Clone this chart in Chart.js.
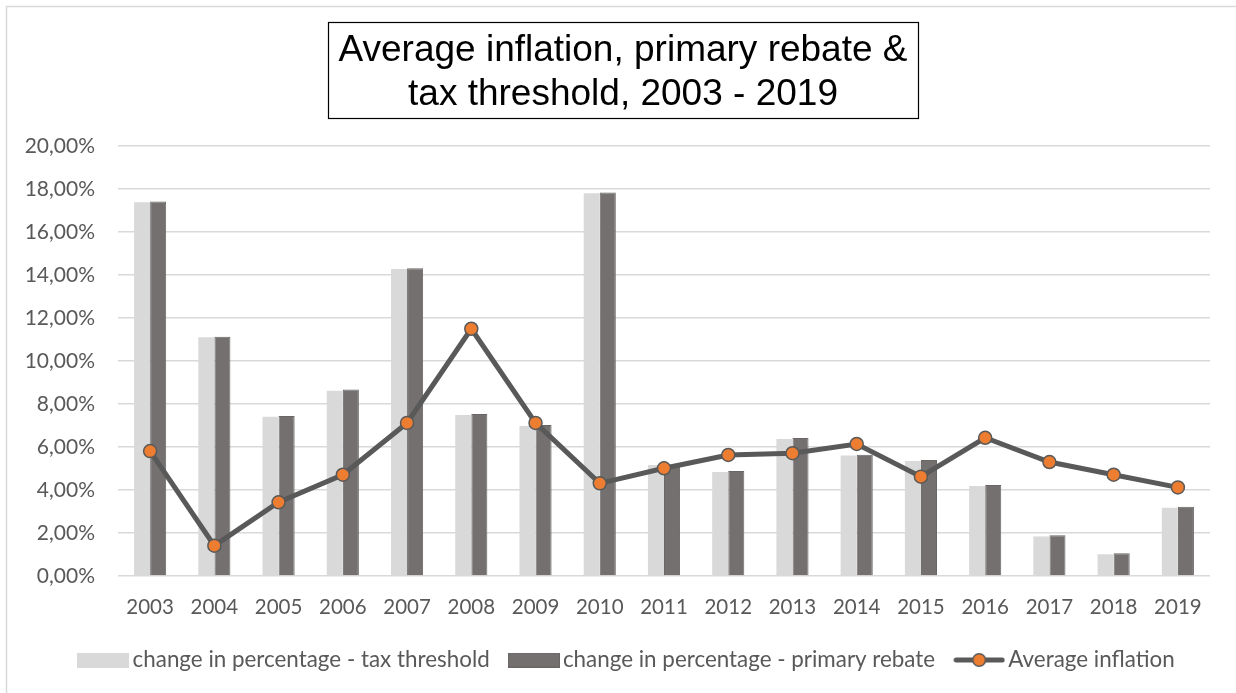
<!DOCTYPE html>
<html>
<head>
<meta charset="utf-8">
<script src="https://cdn.jsdelivr.net/npm/chart.js@4.4.1/dist/chart.umd.min.js"></script>
<style>
  html, body { margin: 0; padding: 0; background: #ffffff; }
  #wrap { position: relative; width: 1236px; height: 693px; overflow: hidden; }
  canvas { display: block; }
</style>
</head>
<body>
<div id="wrap"><canvas id="chart" width="1236" height="693"></canvas></div>
<script>
// Years on the category axis
const years = ['2003', '2004', '2005', '2006', '2007', '2008', '2009', '2010', '2011',
               '2012', '2013', '2014', '2015', '2016', '2017', '2018', '2019'];

// Year-on-year change of the tax threshold (%)
const taxThreshold = [17.38, 11.10, 7.41, 8.62, 14.28, 7.49, 6.98, 17.80, 5.16,
                      4.84, 6.37, 5.60, 5.35, 4.19, 1.84, 1.01, 3.18];

// Year-on-year change of the primary rebate (%)
const primaryRebate = [17.42, 11.13, 7.44, 8.67, 14.31, 7.53, 7.02, 17.84, 5.19,
                       4.88, 6.42, 5.64, 5.40, 4.23, 1.89, 1.06, 3.22];

// Average CPI inflation (%)
const avgInflation = [5.81, 1.41, 3.43, 4.71, 7.12, 11.50, 7.12, 4.31, 5.01,
                      5.63, 5.71, 6.14, 4.62, 6.43, 5.30, 4.71, 4.12];

const titleLines = ['Average inflation, primary rebate &', 'tax threshold, 2003 - 2019'];
const seriesNames = ['change in percentage - tax threshold',
                     'change in percentage - primary rebate',
                     'Average inflation'];

const LIGHT = '#d9d9d9';
const DARK = '#757070';
const DARK_EDGE = '#6a6666';
const LINE = '#595959';
const ORANGE = '#ed7d31';
const TEXT = '#595959';
const FONT = 'Lato, "Open Sans", sans-serif';

// Small canvases used as legend symbols
function swatch(fill, edge) {
  const c = document.createElement('canvas');
  c.width = 52; c.height = 15;
  const g = c.getContext('2d');
  g.fillStyle = fill;
  g.fillRect(0, 0, 52, 15);
  if (edge) { g.strokeStyle = edge; g.lineWidth = 1; g.strokeRect(0.5, 0.5, 51, 14); }
  return c;
}
function lineSymbol() {
  const c = document.createElement('canvas');
  c.width = 52; c.height = 16;
  const g = c.getContext('2d');
  g.strokeStyle = LINE; g.lineWidth = 5; g.lineCap = 'round';
  g.beginPath(); g.moveTo(3, 8); g.lineTo(49, 8); g.stroke();
  g.beginPath(); g.arc(26, 8, 6.3, 0, Math.PI * 2);
  g.fillStyle = ORANGE; g.fill();
  g.lineWidth = 1.5; g.strokeStyle = LINE; g.stroke();
  return c;
}
const legendSymbols = [swatch(LIGHT), swatch(DARK, DARK_EDGE), lineSymbol()];

// Outer frame and the boxed two-line heading
const frameAndTitle = {
  id: 'frameAndTitle',
  afterLayout(chart) {
    // centre the legend row under the plot rather than the whole canvas
    if (chart.legend) chart.legend.left += 50;
  },
  beforeDraw(chart) {
    const ctx = chart.ctx;
    ctx.save();
    ctx.fillStyle = '#ffffff';
    ctx.fillRect(0, 0, chart.width, chart.height);
    ctx.strokeStyle = '#d9d9d9';
    ctx.lineWidth = 1.5;
    ctx.strokeRect(6.5, 6.5, chart.width + 20, chart.height + 20);
    ctx.restore();
  },
  afterDraw(chart) {
    const ctx = chart.ctx;
    ctx.save();
    ctx.strokeStyle = '#000000';
    ctx.lineWidth = 1.2;
    ctx.strokeRect(328.5, 22.5, 590, 96);
    ctx.fillStyle = '#000000';
    ctx.font = '37px "Liberation Sans", Arial, sans-serif';
    ctx.textAlign = 'center';
    ctx.textBaseline = 'middle';
    ctx.fillText(titleLines[0], 623, 51);
    ctx.fillText(titleLines[1], 623, 95);
    ctx.restore();
  }
};

new Chart(document.getElementById('chart'), {
  type: 'bar',
  data: {
    labels: years,
    datasets: [
      {
        type: 'line',
        label: seriesNames[2],
        data: avgInflation,
        borderColor: LINE,
        borderWidth: 5,
        pointRadius: 6.5,
        pointBackgroundColor: ORANGE,
        pointBorderColor: LINE,
        pointBorderWidth: 1.5,
        tension: 0,
        order: 0
      },
      {
        label: seriesNames[0],
        data: taxThreshold,
        backgroundColor: LIGHT,
        borderWidth: 0,
        categoryPercentage: 0.5,
        barPercentage: 1.0,
        order: 1
      },
      {
        label: seriesNames[1],
        data: primaryRebate,
        backgroundColor: DARK,
        borderColor: DARK_EDGE,
        borderWidth: 1,
        categoryPercentage: 0.5,
        barPercentage: 1.0,
        order: 2
      }
    ]
  },
  options: {
    responsive: false,
    animation: false,
    layout: { padding: { top: 146, left: 0, right: 26, bottom: 11.8 } },
    scales: {
      x: {
        grid: { display: false, drawTicks: false },
        border: { display: false },
        ticks: { color: TEXT, font: { family: FONT, size: 20.5 }, padding: 19, maxRotation: 0 },
        afterFit(s) { s.height = 46.8; }
      },
      y: {
        min: 0,
        max: 20,
        grid: { color: '#d9d9d9', lineWidth: 1.5, drawTicks: false },
        border: { display: false },
        ticks: {
          stepSize: 2,
          color: TEXT,
          padding: 23,
          font: { family: FONT, size: 21 },
          callback: v => v.toFixed(2).replace('.', ',') + '%'
        },
        afterFit(s) { s.width = 118; }
      }
    },
    plugins: {
      title: { display: false },
      tooltip: { enabled: false },
      legend: {
        position: 'bottom',
        labels: {
          usePointStyle: true,
          pointStyleWidth: 36,
          boxHeight: 15,
          padding: 26,
          color: TEXT,
          font: { family: FONT, size: 22.4 },
          generateLabels() {
            return [0, 1, 2].map(i => ({
              text: seriesNames[i],
              pointStyle: legendSymbols[i],
              fontColor: TEXT,
              datasetIndex: i === 2 ? 0 : i + 1,
              hidden: false
            }));
          }
        }
      }
    }
  },
  plugins: [frameAndTitle]
});
</script>
</body>
</html>
